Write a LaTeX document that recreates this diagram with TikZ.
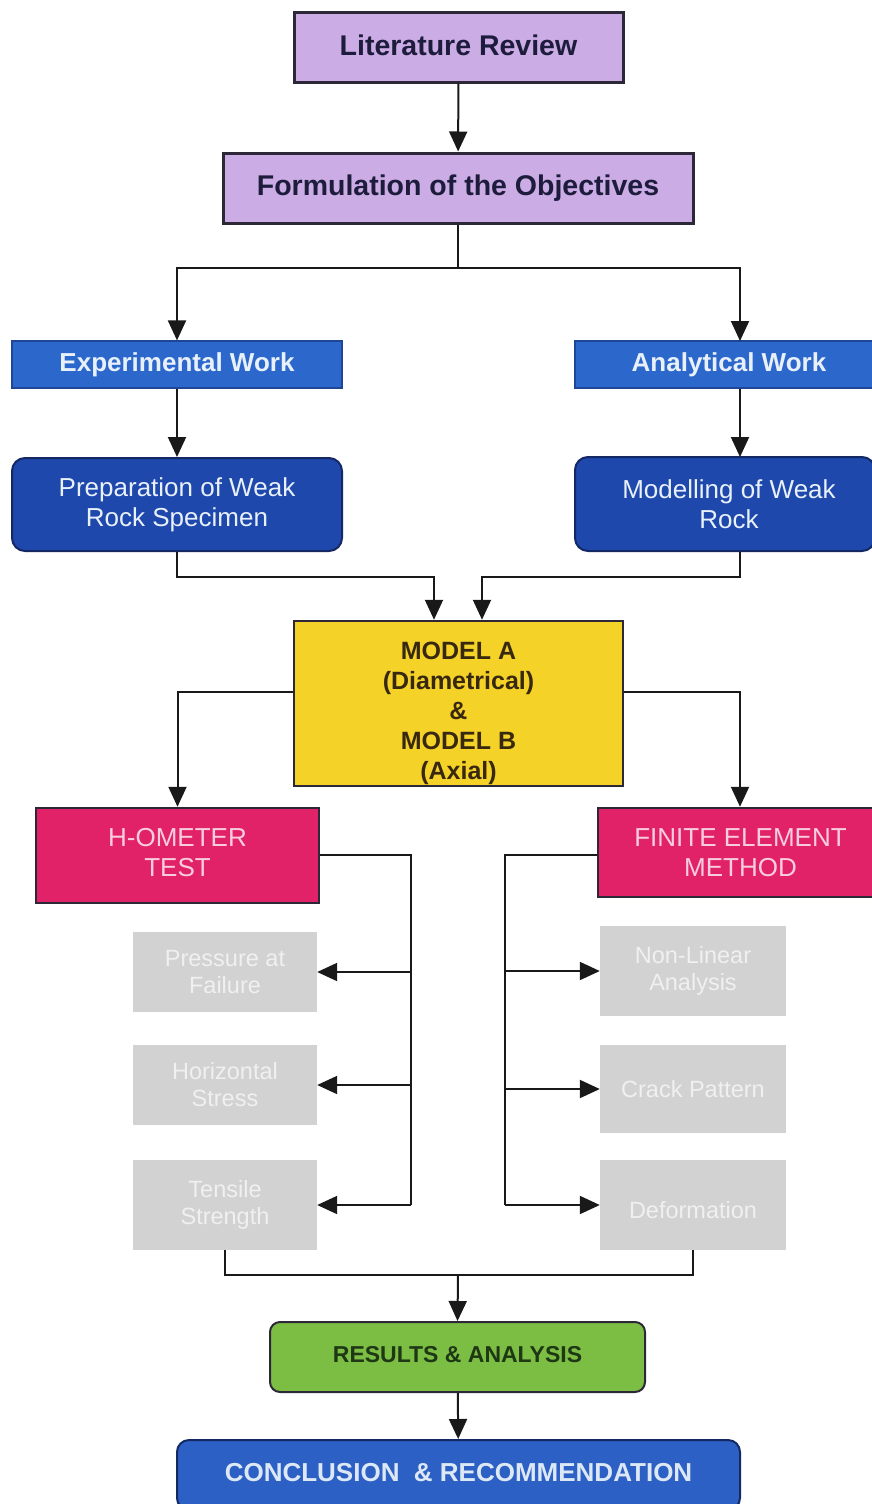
\documentclass[tikz,border=0pt]{standalone}
\usepackage{fontspec}
\setmainfont{Liberation Sans}
\usetikzlibrary{arrows.meta,calc}
\definecolor{lavfill}{RGB}{203,172,228}
\definecolor{lavtext}{RGB}{30,28,60}
\definecolor{darkline}{RGB}{45,40,55}
\definecolor{hdrblue}{RGB}{44,104,204}
\definecolor{hdrline}{RGB}{30,70,150}
\definecolor{hdrtext}{RGB}{232,240,250}
\definecolor{dkblue}{RGB}{30,72,172}
\definecolor{dkline}{RGB}{20,40,100}
\definecolor{ylw}{RGB}{245,210,40}
\definecolor{ylwtext}{RGB}{55,40,15}
\definecolor{pink}{RGB}{226,34,104}
\definecolor{pinktext}{RGB}{248,205,222}
\definecolor{greyfill}{RGB}{210,210,210}
\definecolor{greytext}{RGB}{240,240,240}
\definecolor{grn}{RGB}{124,190,68}
\definecolor{grntext}{RGB}{30,55,20}
\definecolor{cblue}{RGB}{45,96,196}
\definecolor{cbluetext}{RGB}{220,232,245}
\definecolor{arrowc}{RGB}{25,25,25}
\begin{document}
\begin{tikzpicture}[x=1pt,y=-1pt,
  base/.style={inner sep=0pt, align=center},
  lav/.style={base, fill=lavfill, draw=darkline, line width=3pt, text=lavtext,
    font=\bfseries\fontsize{28.5}{33}\selectfont},
  hdr/.style={base, fill=hdrblue, draw=hdrline, line width=1.2pt, text=hdrtext,
    font=\bfseries\fontsize{26}{30}\selectfont},
  rbox/.style={base, fill=dkblue, draw=dkline, line width=2pt, rounded corners=13pt,
    text=hdrtext, font=\fontsize{26}{30}\selectfont},
  ybox/.style={base, fill=ylw, draw=darkline, line width=2.5pt, text=ylwtext,
    font=\bfseries\fontsize{25}{30}\selectfont},
  pbox/.style={base, fill=pink, draw=darkline, line width=2.5pt, text=pinktext,
    font=\fontsize{26}{30}\selectfont},
  gbox/.style={base, fill=greyfill, text=greytext,
    font=\fontsize{23.5}{27}\selectfont},
  gnbox/.style={base, fill=grn, draw=darkline, line width=2pt, rounded corners=10pt,
    text=grntext, font=\bfseries\fontsize{23}{27}\selectfont},
  cbox/.style={base, fill=cblue, draw=dkline, line width=2pt, rounded corners=12pt,
    text=cbluetext, font=\bfseries\fontsize{26}{30}\selectfont},
  ln/.style={draw=arrowc, line width=2pt},
  arr/.style={ln, -{Triangle[length=20pt,width=18pt]}}
]
\useasboundingbox (0,0) rectangle (871,1504);

\node[lav, minimum width=329pt, minimum height=69pt] (lit) at (458.5,47.5) {Literature Review\rule[-4pt]{0pt}{4pt}};
\node[lav, minimum width=470pt, minimum height=70pt] (form) at (458,188) {Formulation of the Objectives\rule[-3pt]{0pt}{3pt}};

\node[hdr, minimum width=330pt, minimum height=47pt] (exp) at (177,364.5) {Experimental Work};
\node[hdr, minimum width=300pt, minimum height=47pt] (ana) at (725,364.5) {\hspace*{8pt}Analytical Work};

\node[rbox, minimum width=330pt, minimum height=93pt] (prep) at (177,504.5) {Preparation of Weak\\Rock Specimen};
\node[rbox, minimum width=300pt, minimum height=94pt] (mod) at (725,504) {\hspace*{8pt}Modelling of Weak\\\hspace*{8pt}Rock};

\node[ybox, minimum width=329pt, minimum height=165pt] (model) at (458.5,703.5)
  {\rule{0pt}{37pt}MODEL A\\(Diametrical)\\\&\\MODEL B\\(Axial)};

\node[pbox, minimum width=283pt, minimum height=95pt] (hom) at (177.5,855.5) {H-OMETER\\TEST\rule[-6pt]{0pt}{6pt}};
\node[pbox, minimum width=277pt, minimum height=89pt] (fem) at (736.5,852.5) {\hspace*{8pt}FINITE ELEMENT\\\hspace*{8pt}METHOD};

\node[gbox, minimum width=184pt, minimum height=80pt] (g1) at (225,972) {Pressure at\\Failure};
\node[gbox, minimum width=184pt, minimum height=80pt] (g2) at (225,1085) {Horizontal\\Stress};
\node[gbox, minimum width=184pt, minimum height=90pt] (g3) at (225,1205) {Tensile\\Strength};

\node[gbox, minimum width=186pt, minimum height=90pt] (r1) at (693,971) {Non-Linear\\Analysis};
\node[gbox, minimum width=186pt, minimum height=88pt] (r2) at (693,1089) {Crack Pattern};
\node[gbox, minimum width=186pt, minimum height=90pt] (r3) at (693,1205) {\\Deformation};

\node[gnbox, minimum width=375pt, minimum height=70pt] (res) at (457.5,1357) {RESULTS \& ANALYSIS\rule[-6pt]{0pt}{6pt}};
\node[cbox, minimum width=563pt, minimum height=70pt] (conc) at (458.5,1475) {CONCLUSION\ \ \& RECOMMENDATION\rule[-6pt]{0pt}{6pt}};

% coordinates
\coordinate (jt) at (458,268);
\coordinate (anaX) at (740,341);
\coordinate (modX) at (740,457);
\coordinate (lb) at (411,855);
\coordinate (rb) at (505,855);
\coordinate (jb) at (458,1275);

% connectors
\draw[arr] (lit) -- (form);
\draw[ln] (form.south) -- (jt);
\draw[arr] (jt) -| (exp.north);
\draw[arr] (jt) -| (anaX);
\draw[arr] (exp) -- (prep);
\draw[arr] (anaX |- ana.south) -- (modX);
\draw[arr] (prep.south) -- ++(0,25) -| ([xshift=-24.5pt]model.north);
\draw[arr] (modX |- mod.south) -- ++(0,25) -| ([xshift=23.5pt]model.north);
\draw[arr] ([yshift=11.5pt]model.west) -| (hom.north);
\draw[arr] ([yshift=11.5pt]model.east) -| ([xshift=3.5pt]fem.north);

\draw[ln] (hom.east |- lb) -- (lb) -- (lb |- g3.east);
\draw[arr] (lb |- g1.east) -- (g1.east);
\draw[arr] (lb |- g2.east) -- (g2.east);
\draw[arr] (lb |- g3.east) -- (g3.east);

\draw[ln] (fem.west |- rb) -- (rb) -- (rb |- r3.west);
\draw[arr] (rb |- r1.west) -- (r1.west);
\draw[arr] (rb |- r2.west) -- (r2.west);
\draw[arr] (rb |- r3.west) -- (r3.west);

\draw[ln] (g3.south) |- (jb) -| (r3.south);
\draw[arr] (jb) -- (res.north);
\draw[arr] (res) -- (conc);
\end{tikzpicture}
\end{document}
